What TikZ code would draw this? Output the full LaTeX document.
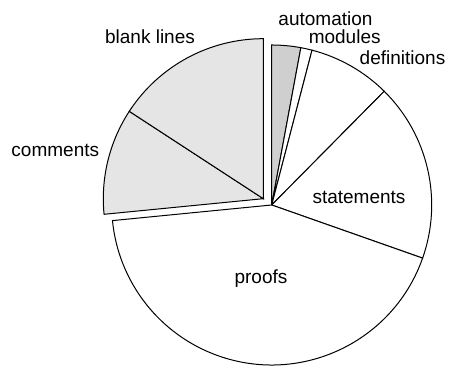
\documentclass[tikz,border=0pt]{standalone}
\usepackage{fontspec}
\setmainfont{Liberation Sans}
\usepackage{tikz}
\usetikzlibrary{calc}

\definecolor{autogray}{gray}{0.81}
\definecolor{lightgray}{gray}{0.9}

\begin{document}
\begin{tikzpicture}[x=0.5pt, y=0.5pt,
    slice/.style={draw=black, line width=0.5pt, line join=miter, fill=#1},
    slice/.default=white,
    label/.style={inner sep=0pt, font=\fontsize{9.5}{11}\selectfont}
]

%%%

    \useasboundingbox (0,0) rectangle (451,367);

    \coordinate (center) at (271.7,162);
    \coordinate (moved) at (263.3,168.3);

    % slices clockwise from the top
    \draw[slice=autogray] (center) -- ++(90:160) arc[start angle=90, end angle=79.5, radius=160] -- cycle;
    \draw[slice] (center) -- ++(79.5:160) arc[start angle=79.5, end angle=75.4, radius=160] -- cycle;
    \draw[slice] (center) -- ++(75.4:160) arc[start angle=75.4, end angle=45.3, radius=160] -- cycle;
    \draw[slice] (center) -- ++(45.3:160) arc[start angle=45.3, end angle=-19.4, radius=160] -- cycle;
    \draw[slice] (center) -- ++(-19.4:160) arc[start angle=-19.4, end angle=-174.4, radius=160] -- cycle;

    % pulled out
    \draw[slice=lightgray] (moved) -- ++(185.6:160) arc[start angle=185.6, end angle=146.9, radius=160] -- cycle;
    \draw[slice=lightgray] (moved) -- ++(146.9:160) arc[start angle=146.9, end angle=90, radius=160] -- cycle;

    \node[label] (automation) at (325.5,348) {automation};
    \node[label] (modules) at (344.7,330) {modules};
    \node[label] (definitions) at (402.5,309) {definitions};
    \node[label] (statements) at (359,170) {statements};
    \node[label] (proofs) at (261,88.5) {proofs};
    \node[label] (comments) at (55.3,217) {comments};
    \node[label] (blank) at (150,330) {blank lines};

\end{tikzpicture}
\end{document}
